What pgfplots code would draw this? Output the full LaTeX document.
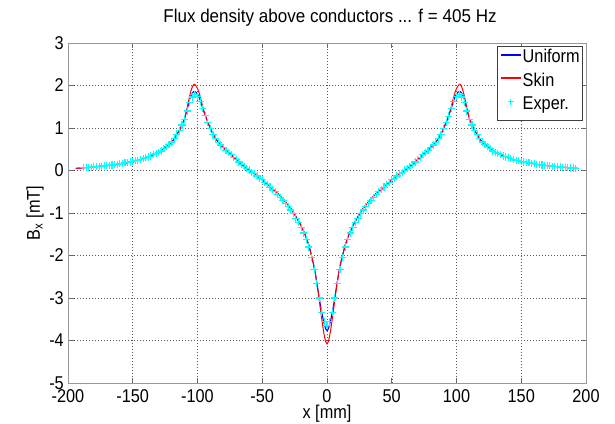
\documentclass[border=0pt]{standalone}
\usepackage{fontspec}
\setmainfont{Liberation Sans}[FakeStretch=0.88]
\newfontfamily\titlefont{Liberation Sans}[FakeStretch=0.92]
\usepackage{pgfplots}
\pgfplotsset{compat=1.18}
\definecolor{mblue}{rgb}{0,0,1}
\definecolor{mred}{rgb}{1,0,0}
\definecolor{mcyan}{rgb}{0,1,1}
\newcommand{\fs}{\fontsize{18.5bp}{22bp}\selectfont}
\begin{document}
\fs
\begin{tikzpicture}
\path[use as bounding box] (-68bp,-40.5bp) rectangle (547bp,383bp);
\begin{axis}[
  at={(0,0)}, anchor=south west,
  width=518bp, height=340bp, scale only axis,
  xmin=-200, xmax=200, ymin=-5, ymax=3,
  xtick={-200,-150,...,200}, ytick={-5,-4,...,3},
  /pgf/number format/assume math mode=true,
  grid=major,
  major grid style={black!65, dash pattern=on 1bp off 2bp, line width=0.5bp},
  axis line style={black!40, line width=0.9bp},
  tick style={black!60, line width=0.6bp},
  major tick length=5.5bp, tick align=inside,
  ticklabel style={font=\fs, inner sep=0pt},
  xticklabel style={anchor=base, yshift=-19bp},
  yticklabel style={anchor=east, xshift=-4bp},
  title={Flux density above conductors ... f = 405 Hz},
  title style={font=\titlefont\fontsize{18.5bp}{22bp}\selectfont, inner sep=0pt, at={(axis description cs:0.5,1.0424)}, anchor=base, xshift=3bp},
  xlabel={x [mm]},
  xlabel style={font=\fs, inner sep=0pt, at={(axis description cs:0.5,0)}, anchor=base, yshift=-35bp},
  ylabel={B\textsubscript{x} [mT]},
  ylabel style={font=\fs, inner sep=0pt, at={(axis description cs:-0.0541,0.5)}, anchor=base, rotate=0},
  legend style={font=\fs, at={(axis description cs:1,1)}, anchor=north east, xshift=-3bp, yshift=-3bp,
    draw=black!75, line width=0.6bp, inner xsep=3bp, inner ysep=1.5bp, row sep=0pt, column sep=2bp,
    nodes={inner sep=0pt, text height=15bp, text depth=8.5bp}},
  legend cell align=left,
]
\addplot[mblue, line width=1bp,
  legend image code/.code={\fill[fill=mblue] (0bp,4.3bp) rectangle (19bp,5.3bp);}] coordinates {
(-194,0.05) (-185,0.07) (-175,0.10) (-165,0.13) (-155,0.18) (-145,0.25) (-135,0.35) (-128,0.46) (-123,0.58) (-119,0.70) (-116,0.84) (-113,1.00) (-110,1.22) (-108,1.43) (-106,1.68) (-105,1.76) (-104,1.82) (-103,1.855) (-102.5,1.86) (-102,1.855) (-101,1.84) (-100,1.80) (-99,1.74) (-98,1.66) (-97,1.56) (-96,1.47) (-95,1.38) (-92,1.13) (-88,0.85) (-84,0.66) (-80,0.54) (-77,0.45) (-72,0.31) (-67,0.17) (-62,0.05) (-57,-0.06) (-50,-0.22) (-44,-0.38) (-38,-0.54) (-33,-0.70) (-28,-0.89) (-24,-1.08) (-20,-1.30) (-17,-1.50) (-14,-1.76) (-11,-2.12) (-9,-2.42) (-7,-2.80) (-5,-3.18) (-4,-3.35) (-3,-3.50) (-2,-3.63) (-1,-3.73) (0,-3.77)
(1,-3.73) (2,-3.63) (3,-3.50) (4,-3.35) (5,-3.18) (7,-2.80) (9,-2.42) (11,-2.12) (14,-1.76) (17,-1.50) (20,-1.30) (24,-1.08) (28,-0.89) (33,-0.70) (38,-0.54) (44,-0.38) (50,-0.22) (57,-0.06) (62,0.05) (67,0.17) (72,0.31) (77,0.45) (80,0.54) (84,0.66) (88,0.85) (92,1.13) (95,1.38) (96,1.47) (97,1.56) (98,1.66) (99,1.74) (100,1.80) (101,1.84) (102,1.855) (102.5,1.86) (103,1.855) (104,1.82) (105,1.76) (106,1.68) (108,1.43) (110,1.22) (113,1.00) (116,0.84) (119,0.70) (123,0.58) (128,0.46) (135,0.35) (145,0.25) (155,0.18) (165,0.13) (175,0.10) (185,0.07) (194,0.05)
};
\addlegendentry{Uniform}
\addplot[mred, line width=1bp,
  legend image code/.code={\fill[fill=mred] (0bp,4.3bp) rectangle (19bp,5.3bp);}] coordinates {
(-194,0.05) (-185,0.07) (-175,0.10) (-165,0.13) (-155,0.18) (-145,0.25) (-135,0.35) (-128,0.46) (-123,0.58) (-119,0.70) (-116,0.84) (-113,1.00) (-110,1.22) (-108,1.47) (-107,1.62) (-106,1.76) (-105,1.88) (-104,1.97) (-103,2.02) (-102.5,2.03) (-102,2.02) (-101,1.98) (-100,1.93) (-99,1.85) (-98,1.75) (-97,1.63) (-96,1.50) (-95,1.39) (-92,1.13) (-88,0.85) (-84,0.66) (-80,0.54) (-77,0.45) (-72,0.31) (-67,0.17) (-62,0.05) (-57,-0.06) (-50,-0.22) (-44,-0.38) (-38,-0.54) (-33,-0.70) (-28,-0.89) (-24,-1.08) (-20,-1.30) (-17,-1.50) (-14,-1.76) (-11,-2.12) (-9,-2.42) (-7,-2.82) (-6,-3.05) (-5,-3.28) (-4,-3.50) (-3,-3.72) (-2,-3.90) (-1,-4.03) (0,-4.08)
(1,-4.03) (2,-3.90) (3,-3.72) (4,-3.50) (5,-3.28) (6,-3.05) (7,-2.82) (9,-2.42) (11,-2.12) (14,-1.76) (17,-1.50) (20,-1.30) (24,-1.08) (28,-0.89) (33,-0.70) (38,-0.54) (44,-0.38) (50,-0.22) (57,-0.06) (62,0.05) (67,0.17) (72,0.31) (77,0.45) (80,0.54) (84,0.66) (88,0.85) (92,1.13) (95,1.39) (96,1.50) (97,1.63) (98,1.75) (99,1.85) (100,1.93) (101,1.98) (102,2.02) (102.5,2.03) (103,2.02) (104,1.97) (105,1.88) (106,1.76) (107,1.62) (108,1.47) (110,1.22) (113,1.00) (116,0.84) (119,0.70) (123,0.58) (128,0.46) (135,0.35) (145,0.25) (155,0.18) (165,0.13) (175,0.10) (185,0.07) (194,0.05)
};
\addlegendentry{Skin}
\addplot[mcyan, only marks, mark=+, mark size=3.6bp, line width=1.1bp,
  legend image code/.code={\draw[draw=mcyan, line width=1bp] plot[mark=+, mark size=3bp, only marks] coordinates {(9.5bp,4.8bp)};}] coordinates {
(-188,0.07) (-186,0.07) (-184,0.08) (-182,0.08) (-180,0.09) (-178,0.09) (-176,0.10) (-174,0.10) (-172,0.11) (-170,0.12) (-168,0.12) (-166,0.13) (-164,0.14) (-162,0.15) (-160,0.16) (-158,0.17) (-156,0.18) (-154,0.19) (-152,0.20) (-150,0.22) (-148,0.23) (-146,0.24) (-144,0.26) (-142,0.28) (-140,0.30) (-138,0.32) (-136,0.34) (-134,0.37) (-132,0.40) (-130,0.43) (-128,0.46) (-126,0.51) (-124,0.56) (-122,0.61) (-120,0.67) (-118,0.75) (-116,0.84) (-114,0.94) (-112,1.07) (-110,1.21) (-108,1.40) (-106,1.60) (-104,1.73) (-102,1.78) (-100,1.75) (-98,1.63) (-96,1.46) (-94,1.29) (-92,1.13) (-90,0.99) (-88,0.85) (-86,0.75) (-84,0.66) (-82,0.60) (-80,0.54) (-78,0.48) (-76,0.42) (-74,0.37) (-72,0.31) (-70,0.25) (-68,0.20) (-66,0.15) (-64,0.10) (-62,0.05) (-60,0.01) (-58,-0.04) (-56,-0.08) (-54,-0.13) (-52,-0.18) (-50,-0.22) (-48,-0.28) (-46,-0.33) (-44,-0.39) (-42,-0.45) (-40,-0.50) (-38,-0.56) (-36,-0.63) (-34,-0.70) (-32,-0.77) (-30,-0.85) (-28,-0.93) (-26,-1.02) (-24,-1.12) (-22,-1.23) (-20,-1.34) (-18,-1.47) (-16,-1.62) (-14,-1.80) (-12,-2.05) (-10,-2.33) (-8,-2.65) (-6,-3.00) (-4,-3.35) (-2,-3.55)
(0,-3.64) (2,-3.55) (4,-3.35) (6,-3.00) (8,-2.65) (10,-2.33) (12,-2.05) (14,-1.80) (16,-1.62) (18,-1.47) (20,-1.34) (22,-1.23) (24,-1.12) (26,-1.02) (28,-0.93) (30,-0.85) (32,-0.77) (34,-0.70) (36,-0.63) (38,-0.56) (40,-0.50) (42,-0.45) (44,-0.39) (46,-0.33) (48,-0.28) (50,-0.22) (52,-0.18) (54,-0.13) (56,-0.08) (58,-0.04) (60,0.01) (62,0.05) (64,0.10) (66,0.15) (68,0.20) (70,0.25) (72,0.31) (74,0.37) (76,0.42) (78,0.48) (80,0.54) (82,0.60) (84,0.66) (86,0.75) (88,0.85) (90,0.99) (92,1.13) (94,1.28) (96,1.45) (98,1.62) (100,1.74) (102,1.78) (104,1.73) (106,1.60) (108,1.40) (110,1.21) (112,1.07) (114,0.94) (116,0.84) (118,0.75) (120,0.67) (122,0.61) (124,0.56) (126,0.51) (128,0.46) (130,0.43) (132,0.40) (134,0.37) (136,0.34) (138,0.32) (140,0.30) (142,0.28) (144,0.26) (146,0.24) (148,0.23) (150,0.22) (152,0.20) (154,0.19) (156,0.18) (158,0.17) (160,0.16) (162,0.15) (164,0.14) (166,0.13) (168,0.12) (170,0.12) (172,0.11) (174,0.10) (176,0.10) (178,0.09) (180,0.09) (182,0.08) (184,0.07) (186,0.07) (188,0.06) (190,0.06) (192,0.055)
};
\addlegendentry{Exper.}
\end{axis}
\end{tikzpicture}
\end{document}
